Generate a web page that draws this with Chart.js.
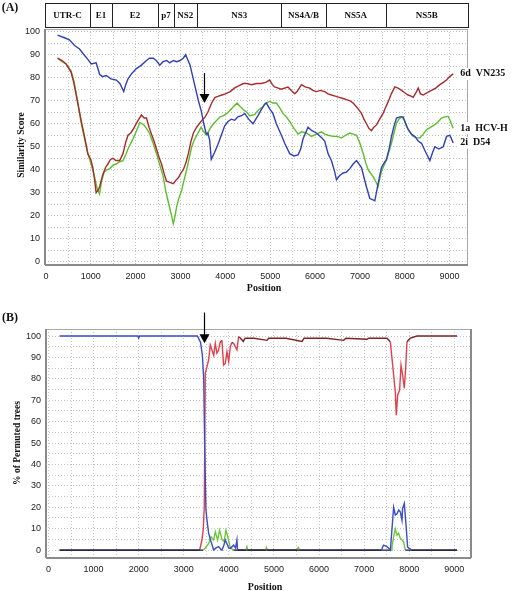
<!DOCTYPE html>
<html>
<head>
<meta charset="utf-8">
<script src="https://cdn.jsdelivr.net/npm/chart.js@4.4.1/dist/chart.umd.min.js"></script>
<style>
  html, body { margin: 0; padding: 0; background: #fff; }
  #wrapA { position: absolute; left: 0; top: 0; }
  #wrapB { position: absolute; left: 0; top: 295px; }
</style>
</head>
<body>
<div id="wrapA"><canvas id="chartA" width="512" height="295"></canvas></div>
<div id="wrapB"><canvas id="chartB" width="512" height="296"></canvas></div>
<script>
// ---- data ----
const geneNames = ['UTR-C', 'E1', 'E2', 'p7', 'NS2', 'NS3', 'NS4A/B', 'NS5A', 'NS5B'];
const geneBounds = [-20, 987, 1469, 2504, 2846, 3366, 5250, 6239, 7571, 9410];

const seriesNames = ['2i  D54', '6d  VN235', '1a  HCV-H'];
const xTickLabels = [0, 1000, 2000, 3000, 4000, 5000, 6000, 7000, 8000, 9000];
const yTickLabels = [0, 10, 20, 30, 40, 50, 60, 70, 80, 90, 100];

// (A) similarity plot
const simPosD54 = [260, 400, 523, 640, 750, 850, 935, 1010, 1120, 1160, 1196, 1260, 1345, 1450, 1570, 1650, 1734, 1780, 1830, 1920,
  2018, 2130, 2242, 2310, 2390, 2460, 2540, 2610, 2690, 2760, 2840, 2920, 2990, 3060, 3116, 3214, 3315, 3400, 3464, 3520,
  3575, 3610, 3650, 3687, 3760, 3835, 3910, 3984, 4060, 4133, 4210, 4282, 4360, 4431, 4520, 4617, 4680, 4728, 4800, 4877,
  4915, 4989, 5060, 5138, 5250, 5324, 5435, 5530, 5621, 5680, 5733, 5844, 5930, 6030, 6142, 6216, 6291, 6365, 6440, 6477,
  6550, 6626, 6700, 6775, 6850, 6924, 7036, 7100, 7147, 7221, 7280, 7333, 7406, 7481, 7540, 7593, 7650, 7705, 7760, 7817,
  7890, 7964, 8075, 8150, 8225, 8300, 8374, 8470, 8560, 8620, 8672, 8760, 8857, 8932, 9007, 9080];
const simD54 = [98.5, 97.5, 96.5, 94, 92.5, 90, 88, 86, 86.5, 84, 81.5, 80.5, 81, 79.5, 79, 77.5, 74, 77, 79.5, 82,
  84, 85.5, 87.5, 88.5, 88.5, 87.5, 85.5, 87, 87.5, 86.5, 87.5, 87, 87.5, 88.5, 90, 85.5, 77, 70, 65.5, 60,
  55.5, 56, 53, 44.5, 47.5, 51, 55, 59, 61, 62, 61.5, 63, 63.5, 64.5, 62, 60, 62, 63.5, 66, 68.5,
  69, 66.5, 64.5, 60, 55, 51.5, 47, 46, 46.5, 49, 53.5, 58.5, 57, 56, 54, 52.5, 47, 44, 39, 35.7,
  37.5, 38.6, 39, 40.5, 42.5, 44, 41, 36, 32.5, 27.5, 27, 26.5, 34, 41, 43, 44.5, 49, 54.5, 59, 62.5,
  63, 63, 57.5, 55.5, 54.5, 52.5, 51.5, 47.5, 44, 47.5, 50, 49, 50, 54.5, 55, 51.7];

const simPosVN235 = [260, 360, 450, 560, 620, 670, 730, 785, 860, 935, 1000, 1046, 1090, 1120, 1160, 1196, 1270, 1330, 1383, 1440,
  1494, 1560, 1644, 1719, 1780, 1830, 1890, 1943, 2000, 2055, 2130, 2190, 2242, 2300, 2354, 2410, 2466, 2520, 2578, 2640,
  2690, 2760, 2840, 2900, 2952, 3010, 3064, 3120, 3176, 3230, 3288, 3360, 3438, 3500, 3550, 3610, 3662, 3720, 3774, 3850,
  3924, 4000, 4110, 4200, 4297, 4400, 4484, 4580, 4700, 4803, 4900, 4989, 5050, 5100, 5180, 5250, 5320, 5398, 5470, 5547,
  5600, 5696, 5780, 5882, 5950, 6030, 6120, 6216, 6290, 6365, 6450, 6540, 6626, 6700, 6780, 6849, 6940, 7036, 7090, 7147,
  7200, 7259, 7310, 7370, 7440, 7518, 7570, 7629, 7700, 7779, 7850, 7928, 8000, 8075, 8140, 8188, 8250, 8300, 8350, 8411,
  8500, 8597, 8690, 8783, 8860, 8932, 9000, 9080];
const simVN235 = [88.5, 87.5, 86, 82.5, 78, 73, 67, 61.5, 54.5, 47, 44.5, 41, 35, 30, 31, 32.5, 38, 41, 42.5, 44.5,
  45, 44, 44, 47, 52, 55, 56, 57.5, 59.5, 61.5, 63.8, 62.5, 62.5, 58.5, 55.5, 52.5, 49, 45.5, 42.5, 38,
  35, 34.5, 34, 35.5, 36.5, 38.5, 40, 43, 47, 52, 56, 58.5, 60.5, 62, 63, 65, 67.5, 70, 71.5, 72,
  72.5, 73, 74, 75.5, 76.5, 77.5, 77.5, 77, 77.5, 77.5, 78, 79, 77, 76, 75.5, 75, 75.5, 76, 74.5, 73,
  74, 77, 76, 75.5, 74.5, 74, 74.5, 74, 73, 72.5, 72, 71.5, 71, 70.5, 70, 69, 67, 64.5, 62, 60,
  58, 57, 58.5, 59.5, 62, 64.5, 67, 69.5, 73, 76, 75.5, 74.5, 73.5, 72.5, 72, 71.5, 73.5, 75.5, 73, 72.5,
  73.5, 74.5, 75.5, 77, 78, 79, 80.5, 81.7];

const simPosHCVH = [260, 360, 450, 560, 620, 670, 730, 780, 822, 880, 935, 1000, 1083, 1140, 1196, 1240, 1300, 1360, 1420, 1500,
  1570, 1640, 1719, 1780, 1830, 1890, 1943, 2000, 2093, 2150, 2205, 2260, 2317, 2390, 2466, 2540, 2615, 2670, 2728, 2790,
  2840, 2880, 2915, 2970, 3027, 3080, 3139, 3200, 3251, 3310, 3363, 3420, 3460, 3520, 3587, 3660, 3737, 3810, 3886, 3960,
  4036, 4110, 4185, 4260, 4330, 4410, 4480, 4542, 4654, 4740, 4840, 4900, 4989, 5060, 5138, 5210, 5287, 5360, 5435, 5530,
  5621, 5700, 5807, 5919, 6030, 6142, 6216, 6291, 6402, 6500, 6589, 6680, 6775, 6850, 6924, 7000, 7072, 7130, 7184, 7240,
  7295, 7350, 7406, 7440, 7481, 7540, 7593, 7650, 7705, 7760, 7817, 7870, 7928, 7990, 8040, 8110, 8188, 8260, 8337, 8410,
  8486, 8580, 8672, 8750, 8821, 8900, 8969, 9020, 9080];
const simHCVH = [88.5, 87, 86, 83, 79, 74, 67, 61, 57, 52, 47, 43, 37, 32, 29.5, 35, 39, 40, 40.5, 42,
  42.5, 43.5, 44, 46.5, 49, 51.5, 53.5, 56, 60.5, 60, 59, 57.5, 55.5, 51.5, 47, 42, 37, 31, 26, 21,
  16.5, 20, 24, 28, 31, 35.5, 40, 45.5, 50, 53, 55, 57, 58.5, 56.5, 55, 58, 60, 61.5, 63, 63.5,
  64.5, 66, 67.5, 69, 67.5, 66, 65, 63.5, 64, 66, 67.5, 69, 69.7, 69, 69, 67, 64.5, 63, 61, 58,
  55.5, 56.5, 56, 54.5, 55.5, 56.5, 55.5, 55, 54.5, 54.5, 53.8, 55, 56, 55.5, 55, 51.5, 47.2, 43, 40, 38.5,
  37, 35, 32.7, 36, 39.3, 42, 44.3, 48, 51.6, 56, 60.3, 62, 63, 61.5, 58.8, 56.5, 54.5, 54, 53.8, 55.5,
  57.4, 58.5, 59.6, 61, 62.5, 63, 63.2, 61, 58.1];

// (B) bootscan, % of permuted trees
const bootPosD54 = [247, 1980, 2000, 2020, 3302, 3373, 3413, 3443, 3463, 3492, 3515, 3551, 3588, 3635, 3662, 3715, 3772, 3816, 3846, 3886,
  3921, 3958, 3997, 4032, 4067, 4106, 4148, 4179, 4193, 4259, 7380, 7396, 7430, 7507, 7541, 7582, 7618, 7654, 7691, 7729,
  7766, 7802, 7839, 7853, 7891, 7935, 7964, 7986, 8060, 9060];
const bootD54 = [100, 100, 99, 100, 100, 97, 91, 80, 50, 19, 14, 8, 5, 2, 0, 1, 1.6, 0.5, 0, 2,
  4.7, 3, 1, 0.8, 1.5, 2.3, 1, 4.7, 0, 0, 0, 0.8, 2.3, 1.6, 1, 0, 10, 20, 16.4, 17,
  18.7, 17.9, 14, 19.5, 21.8, 10, 1.5, 1, 0, 0];

const bootPosVN235 = [247, 3352, 3404, 3433, 3455, 3477, 3515, 3551, 3588, 3625, 3665, 3699, 3735, 3772, 3806, 3846, 3883, 3921, 3958, 3997,
  4032, 4067, 4106, 4143, 4179, 4216, 4259, 4320, 4360, 4561, 4846, 4883, 5266, 5622, 5668, 6172, 6545, 6595, 7063, 7098,
  7359, 7507, 7581, 7618, 7654, 7691, 7713, 7743, 7787, 7818, 7853, 7891, 7921, 7950, 8025, 8173, 9060];
const bootVN235 = [0, 0, 4.7, 10, 20, 82.6, 85.7, 88.8, 95.8, 93.5, 91, 96.6, 92, 93.5, 97, 98, 86.4, 87.2, 92.7, 88,
  95, 97, 96.6, 95, 93.5, 99.7, 99, 97.5, 99, 99, 98, 99, 99, 97.5, 99, 99, 98, 99, 98.5, 99,
  99, 99, 97.3, 89.6, 81.8, 74, 63, 72.4, 74.8, 86.4, 81.8, 75.6, 84.9, 97.3, 99, 100, 100];

const bootPosHCVH = [247, 3433, 3477, 3514, 3551, 3604, 3662, 3699, 3750, 3795, 3846, 3896, 3935, 3979, 4032, 4106, 4380, 4402, 4420, 4813,
  4831, 4853, 5517, 5540, 5568, 7602, 7618, 7654, 7691, 7729, 7766, 7802, 7839, 7876, 7914, 9060];
const bootHCVH = [0, 0, 1, 2, 3, 6.2, 4.7, 8.6, 4.7, 9.3, 5, 4, 9.3, 6, 1, 0, 0, 1.5, 0, 0,
  1.2, 0, 0, 1.2, 0, 0, 1.6, 6.2, 10, 7, 7.8, 5.5, 4.7, 3.9, 0, 0];

// breakpoint arrows: [position, start value, tip value]
const arrowA = [3515, 82, 69];
const arrowB = [3455, 111, 96.7];

// ---- styling ----
const serif = '"Liberation Serif", "Times New Roman", serif';
const sans = '"Liberation Sans", Arial, sans-serif';
const blue = '#3040b8';
const red = '#a82a2a';
const green = '#5cbf2a';
const gridColor = '#c4c4c4';

function toPoints(xs, ys) {
  return xs.map((x, i) => ({ x: x, y: ys[i] }));
}

// labelled ticks plus one unlabelled grid line between each pair
function halfSteps(labels) {
  const out = [];
  labels.forEach((v, i) => {
    out.push(v);
    if (i < labels.length - 1) out.push((v + labels[i + 1]) / 2);
  });
  return out;
}

function xScale(min, max, height) {
  return {
    type: 'linear',
    min: min,
    max: max,
    afterBuildTicks: s => { s.ticks = halfSteps(xTickLabels).map(v => ({ value: v })); },
    afterFit: s => { s.height = height; },
    grid: { color: gridColor, drawTicks: false },
    border: { display: false, dash: [1, 2] },
    ticks: {
      autoSkip: false, maxRotation: 0, padding: 6, color: '#222',
      font: { family: sans, size: 9 },
      callback: v => xTickLabels.includes(v) ? String(v) : ''
    }
  };
}

function yScale(min, max, width) {
  return {
    min: min,
    max: max,
    afterBuildTicks: s => { s.ticks = halfSteps(yTickLabels).map(v => ({ value: v })); },
    afterFit: s => { s.width = width; },
    grid: { color: gridColor, drawTicks: false },
    border: { display: false, dash: [1, 2] },
    ticks: {
      autoSkip: false, padding: 5, color: '#222',
      font: { family: sans, size: 9 },
      callback: v => yTickLabels.includes(v) ? String(v) : ''
    }
  };
}

// plot frame: thin all round, heavier on the listed sides
function framePlugin(sides) {
  return {
    id: 'frame',
    afterDatasetsDraw(chart) {
      const { ctx, chartArea: a } = chart;
      ctx.save();
      ctx.strokeStyle = '#a8a8a8';
      ctx.lineWidth = 1;
      ctx.strokeRect(a.left + 0.5, a.top + 0.5, a.right - a.left - 1, a.bottom - a.top - 1);
      ctx.strokeStyle = '#8a8a8a';
      ctx.lineWidth = 2;
      ctx.beginPath();
      if (sides.includes('left')) { ctx.moveTo(a.left, a.top); ctx.lineTo(a.left, a.bottom); }
      if (sides.includes('bottom')) { ctx.moveTo(a.left, a.bottom); ctx.lineTo(a.right, a.bottom); }
      if (sides.includes('right')) { ctx.moveTo(a.right, a.top); ctx.lineTo(a.right, a.bottom); }
      ctx.stroke();
      ctx.restore();
    }
  };
}

function textPlugin(items) {
  return {
    id: 'panelText',
    afterDraw(chart) {
      const ctx = chart.ctx;
      items.forEach(t => {
        ctx.save();
        ctx.fillStyle = '#111';
        ctx.font = t.font;
        ctx.textAlign = t.align || 'center';
        ctx.textBaseline = 'middle';
        ctx.translate(t.x, t.y);
        if (t.rot) ctx.rotate(t.rot);
        ctx.fillText(t.text, 0, 0);
        ctx.restore();
      });
    }
  };
}

function arrowPlugin(arrow) {
  return {
    id: 'arrow',
    afterDraw(chart) {
      const { ctx, scales } = chart;
      const x = Math.round(scales.x.getPixelForValue(arrow[0])) + 0.5;
      const y0 = scales.y.getPixelForValue(arrow[1]);
      const y1 = scales.y.getPixelForValue(arrow[2]);
      ctx.save();
      ctx.strokeStyle = '#000';
      ctx.fillStyle = '#000';
      ctx.lineWidth = 1.2;
      ctx.beginPath();
      ctx.moveTo(x, y0);
      ctx.lineTo(x, y1 - 6);
      ctx.stroke();
      ctx.beginPath();
      ctx.moveTo(x - 5, y1 - 9);
      ctx.lineTo(x + 5, y1 - 9);
      ctx.lineTo(x, y1);
      ctx.closePath();
      ctx.fill();
      ctx.restore();
    }
  };
}

// gene map boxes along the top of panel A
const genePlugin = {
  id: 'genes',
  afterDraw(chart) {
    const { ctx, scales, chartArea: a } = chart;
    const top = 3, h = 24;
    ctx.save();
    ctx.strokeStyle = '#222';
    ctx.lineWidth = 1;
    ctx.font = 'bold 9px ' + serif;
    ctx.fillStyle = '#111';
    ctx.textAlign = 'center';
    ctx.textBaseline = 'middle';
    geneNames.forEach((name, i) => {
      const l = Math.max(a.left, scales.x.getPixelForValue(geneBounds[i]));
      const r = Math.min(a.right + 1, scales.x.getPixelForValue(geneBounds[i + 1]));
      ctx.strokeRect(Math.round(l) + 0.5, top + 0.5, Math.round(r) - Math.round(l), h);
      ctx.fillText(name, (l + r) / 2, top + h / 2 + 1);
    });
    ctx.restore();
  }
};

// series names at the right end of each line in panel A
const seriesLabelPlugin = {
  id: 'seriesLabels',
  afterDraw(chart) {
    const ctx = chart.ctx;
    ctx.save();
    ctx.font = 'bold 10px ' + serif;
    ctx.textAlign = 'left';
    ctx.textBaseline = 'middle';
    chart.data.datasets.forEach((ds, i) => {
      const pts = chart.getDatasetMeta(i).data;
      const p = pts[pts.length - 1];
      const x = p.x + 7;
      const w = ctx.measureText(seriesNames[i]).width;
      ctx.fillStyle = '#fff';
      ctx.fillRect(x - 1, p.y - 6, w + 2, 12);
      ctx.fillStyle = '#111';
      ctx.fillText(seriesNames[i], x, p.y);
    });
    ctx.restore();
  }
};

function lineSet(label, pts, color, extra) {
  return Object.assign({
    label: label,
    data: pts,
    borderColor: color,
    borderWidth: 1.4,
    pointRadius: 0,
    tension: 0,
    fill: false
  }, extra || {});
}

document.addEventListener('DOMContentLoaded', function() {
  initializeSimilarityChart();
  initializeBootscanChart();
});

function initializeSimilarityChart() {
  const ctx = document.getElementById('chartA').getContext('2d');
  window.similarityChart = new Chart(ctx, {
    type: 'line',
    data: {
      datasets: [
        lineSet(seriesNames[0], toPoints(simPosD54, simD54), blue),
        lineSet(seriesNames[1], toPoints(simPosVN235, simVN235), red),
        lineSet(seriesNames[2], toPoints(simPosHCVH, simHCVH), green)
      ]
    },
    options: {
      responsive: false,
      animation: false,
      layout: { padding: { top: 29, right: 44, left: 0, bottom: 0 } },
      scales: {
        x: xScale(-20, 9410, 30),
        y: yScale(-1.4, 101.2, 45)
      },
      plugins: { legend: { display: false }, tooltip: { enabled: false } }
    },
    plugins: [
      framePlugin(['left', 'bottom']),
      genePlugin,
      seriesLabelPlugin,
      arrowPlugin(arrowA),
      textPlugin([
        { text: '(A)', x: 10, y: 8, font: 'bold 12px ' + serif },
        { text: 'Similarity Score', x: 22, y: 145, rot: -Math.PI / 2, font: 'bold 9.5px ' + serif },
        { text: 'Position', x: 264, y: 288, font: 'bold 10px ' + serif }
      ])
    ]
  });
}

function initializeBootscanChart() {
  const zero = '#1c1c38';
  const flatAtZero = c => (c.p0.parsed.y <= 0.1 && c.p1.parsed.y <= 0.1) ? zero : undefined;
  const ctx = document.getElementById('chartB').getContext('2d');
  window.bootscanChart = new Chart(ctx, {
    type: 'line',
    data: {
      datasets: [
        lineSet(seriesNames[0], toPoints(bootPosD54, bootD54), '#3a4cc8', { segment: { borderColor: flatAtZero } }),
        lineSet(seriesNames[2], toPoints(bootPosHCVH, bootHCVH), '#6cc83a', { segment: { borderColor: flatAtZero } }),
        lineSet(seriesNames[1], toPoints(bootPosVN235, bootVN235), '#e0404c', {
          segment: {
            borderColor: c => (c.p0.parsed.y >= 96.5 && c.p1.parsed.y >= 96.5) ? '#7a2424' : flatAtZero(c)
          }
        })
      ]
    },
    options: {
      responsive: false,
      animation: false,
      layout: { padding: { top: 34, right: 41, left: 0, bottom: 0 } },
      scales: {
        x: xScale(-55, 9370, 33),
        y: yScale(-3.7, 103.3, 46)
      },
      plugins: { legend: { display: false }, tooltip: { enabled: false } }
    },
    plugins: [
      framePlugin(['left', 'bottom', 'right']),
      arrowPlugin(arrowB),
      textPlugin([
        { text: '(B)', x: 10, y: 23, font: 'bold 12px ' + serif },
        { text: '% of Permuted trees', x: 18, y: 148, rot: -Math.PI / 2, font: 'bold 9.5px ' + serif },
        { text: 'Position', x: 265, y: 292, font: 'bold 10px ' + serif }
      ])
    ]
  });
}
</script>
</body>
</html>
